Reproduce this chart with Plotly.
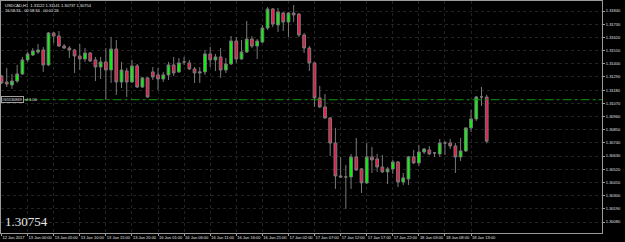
import plotly.graph_objects as go

# ---- data (USDCAD H1) ----
opens = [1.31298, 1.31248, 1.31223, 1.31256, 1.31315, 1.31432, 1.31473, 1.31498, 1.31515, 1.31390,
         1.31657, 1.31631, 1.31548, 1.31531, 1.31515, 1.31465, 1.31440, 1.31490, 1.31432, 1.31373,
         1.31415, 1.31348, 1.31523, 1.31248, 1.31340, 1.31248, 1.31382, 1.31206, 1.31282, 1.31332,
         1.31307, 1.31273, 1.31307, 1.31390, 1.31332, 1.31415, 1.31407, 1.31357, 1.31323, 1.31332,
         1.31482, 1.31432, 1.31457, 1.31348, 1.31398, 1.31590, 1.31440, 1.31498, 1.31606, 1.31548,
         1.31581, 1.31698, 1.31857, 1.31723, 1.31823, 1.31748, 1.31823, 1.31815, 1.31640, 1.31531,
         1.31407, 1.31115, 1.31040, 1.30948, 1.30739, 1.30464, 1.30456, 1.30456, 1.30623, 1.30523,
         1.30406, 1.30623, 1.30606, 1.30539, 1.30498, 1.30523, 1.30581, 1.30414, 1.30439, 1.30623,
         1.30573, 1.30664, 1.30681, 1.30656, 1.30648, 1.30739, 1.30739, 1.30714, 1.30623, 1.30673,
         1.30865, 1.30940, 1.31123, 1.31122]
highs = [1.31307, 1.31365, 1.31315, 1.31390, 1.31457, 1.31498, 1.31531, 1.31565, 1.31540, 1.31665,
         1.31665, 1.31673, 1.31565, 1.31548, 1.31523, 1.31565, 1.31531, 1.31498, 1.31457, 1.31457,
         1.31531, 1.31623, 1.31598, 1.31415, 1.31365, 1.31432, 1.31398, 1.31290, 1.31290, 1.31373,
         1.31365, 1.31332, 1.31415, 1.31457, 1.31448, 1.31457, 1.31432, 1.31373, 1.31373, 1.31515,
         1.31540, 1.31482, 1.31531, 1.31448, 1.31631, 1.31623, 1.31598, 1.31757, 1.31631, 1.31606,
         1.31723, 1.31873, 1.31865, 1.31865, 1.31832, 1.31832, 1.31890, 1.31823, 1.31657, 1.31548,
         1.31415, 1.31215, 1.31148, 1.30956, 1.30865, 1.30623, 1.30556, 1.30648, 1.30781, 1.30531,
         1.30739, 1.30706, 1.30648, 1.30639, 1.30539, 1.30598, 1.30589, 1.30489, 1.30631, 1.30681,
         1.30723, 1.30698, 1.30714, 1.30664, 1.30773, 1.30756, 1.30773, 1.30739, 1.30781, 1.30865,
         1.31015, 1.31131, 1.31206, 1.31141]
lows = [1.31231, 1.31206, 1.31190, 1.31240, 1.31307, 1.31415, 1.31465, 1.31482, 1.31332, 1.31382,
        1.31573, 1.31540, 1.31523, 1.31448, 1.31323, 1.31348, 1.31415, 1.31415, 1.31256, 1.31273,
        1.31098, 1.31240, 1.31140, 1.31198, 1.31123, 1.31240, 1.31198, 1.31198, 1.31115, 1.31265,
        1.31181, 1.31248, 1.31265, 1.31298, 1.31323, 1.31390, 1.31348, 1.31240, 1.31240, 1.31307,
        1.31373, 1.31340, 1.31282, 1.31323, 1.31390, 1.31407, 1.31432, 1.31490, 1.31531, 1.31440,
        1.31573, 1.31681, 1.31706, 1.31665, 1.31673, 1.31623, 1.31748, 1.31623, 1.31490, 1.31340,
        1.31040, 1.31031, 1.30940, 1.30631, 1.30356, 1.30448, 1.30189, 1.30356, 1.30506, 1.30322,
        1.30397, 1.30489, 1.30498, 1.30489, 1.30397, 1.30481, 1.30372, 1.30389, 1.30389, 1.30564,
        1.30548, 1.30648, 1.30639, 1.30623, 1.30623, 1.30639, 1.30689, 1.30489, 1.30589, 1.30664,
        1.30831, 1.30923, 1.31048, 1.30737]
closes = [1.31240, 1.31231, 1.31256, 1.31315, 1.31432, 1.31482, 1.31507, 1.31515, 1.31390, 1.31657,
          1.31631, 1.31548, 1.31531, 1.31515, 1.31465, 1.31440, 1.31490, 1.31423, 1.31373, 1.31415,
          1.31348, 1.31523, 1.31248, 1.31348, 1.31248, 1.31382, 1.31206, 1.31282, 1.31123, 1.31290,
          1.31273, 1.31307, 1.31390, 1.31323, 1.31407, 1.31415, 1.31357, 1.31323, 1.31332, 1.31482,
          1.31432, 1.31457, 1.31348, 1.31398, 1.31590, 1.31440, 1.31498, 1.31606, 1.31548, 1.31590,
          1.31698, 1.31857, 1.31731, 1.31832, 1.31748, 1.31823, 1.31807, 1.31640, 1.31531, 1.31407,
          1.31115, 1.31040, 1.30948, 1.30739, 1.30464, 1.30456, 1.30456, 1.30623, 1.30514, 1.30406,
          1.30623, 1.30598, 1.30539, 1.30498, 1.30523, 1.30581, 1.30414, 1.30448, 1.30623, 1.30573,
          1.30664, 1.30689, 1.30648, 1.30656, 1.30739, 1.30739, 1.30714, 1.30623, 1.30673, 1.30865,
          1.30940, 1.31123, 1.31123, 1.30754]

time_labels = ["12 Jan 2017", "13 Jan 00:00", "13 Jan 05:00", "13 Jan 10:00", "13 Jan 15:00",
               "13 Jan 20:00", "16 Jan 01:00", "16 Jan 06:00", "16 Jan 11:00", "16 Jan 16:00",
               "16 Jan 21:00", "17 Jan 02:00", "17 Jan 07:00", "17 Jan 12:00", "17 Jan 17:00",
               "17 Jan 22:00", "18 Jan 03:00", "18 Jan 08:00", "18 Jan 13:00"]
label_step = 5
price_ticks = [1.31840, 1.31730, 1.31620, 1.31510, 1.31400, 1.31290, 1.31180, 1.31070, 1.30960,
               1.30850, 1.30740, 1.30630, 1.30520, 1.30410, 1.30300, 1.30190, 1.30080]
sl_level = 1.31100
title_line1 = "USDCAD,H1  1.31122 1.31141 1.30737 1.30754"
title_line2 = "16:58:34 - 00:58:34 - 00:01:26"
big_price = "1.30754"

x = list(range(len(opens)))
tick_x = [i * label_step for i in range(len(time_labels))]

fig = go.Figure()
fig.add_trace(go.Candlestick(
    x=x, open=opens, high=highs, low=lows, close=closes,
    increasing=dict(fillcolor="#00ff00", line=dict(color="#7a7a7a", width=1)),
    decreasing=dict(fillcolor="#ee1848", line=dict(color="#7a7a7a", width=1)),
    whiskerwidth=0, showlegend=False, hoverinfo="skip"))

fig.add_shape(type="line", xref="paper", yref="y", x0=0.036, x1=1, y0=sl_level, y1=sl_level,
              line=dict(color="#119911", width=1, dash="dashdot"))

fig.add_annotation(xref="paper", yref="y", x=0.0, y=sl_level, xanchor="left", yanchor="middle",
                   text="#65530869", showarrow=False, font=dict(size=4, color="#e0e0e0", family="Liberation Sans"),
                   bordercolor="#a0a0a0", borderwidth=1, borderpad=0, bgcolor="#000000")
fig.add_annotation(xref="paper", yref="y", x=0.036, y=sl_level, xanchor="left", yanchor="middle",
                   text="sl 1.00", showarrow=False, font=dict(size=4, color="#e0e0e0", family="Liberation Sans"))

fig.add_annotation(xref="paper", yref="paper", x=0.003, y=1.0, xanchor="left", yanchor="top",
                   text=title_line1 + "<br>" + title_line2, align="left", showarrow=False,
                   font=dict(size=4, color="#e8e8e8", family="Liberation Sans"))

fig.add_annotation(xref="paper", yref="paper", x=0.003, y=0.01, xanchor="left", yanchor="bottom",
                   text=big_price, showarrow=False,
                   font=dict(size=13, color="#e6e6e6", family="Liberation Serif"))

fig.update_layout(
    width=625, height=242,
    margin=dict(l=1, r=23, t=1, b=9),
    paper_bgcolor="#000000", plot_bgcolor="#000000",
    boxgap=0.25,
    xaxis=dict(range=[-0.1, 115.1], rangeslider=dict(visible=False),
               tickvals=tick_x, ticktext=time_labels, ticklabelposition="outside right",
               tickangle=0,
               tickfont=dict(size=4, color="#e0e0e0", family="Liberation Sans"),
               ticks="outside", ticklen=2, tickcolor="#a0a0a0",
               showgrid=True, gridcolor="#222222", griddash="dot", gridwidth=1,
               showline=True, linecolor="#9a9a9a", linewidth=1, mirror=True, zeroline=False),
    yaxis=dict(range=[1.299883, 1.319234], side="right",
               tickvals=price_ticks, ticktext=["%.5f" % v for v in price_ticks],
               tickfont=dict(size=4, color="#e0e0e0", family="Liberation Sans"),
               ticks="outside", ticklen=2, tickcolor="#a0a0a0",
               showgrid=True, gridcolor="#222222", griddash="dot", gridwidth=1,
               showline=True, linecolor="#9a9a9a", linewidth=1, mirror=True, zeroline=False),
)

fig.write_html("out.html")
